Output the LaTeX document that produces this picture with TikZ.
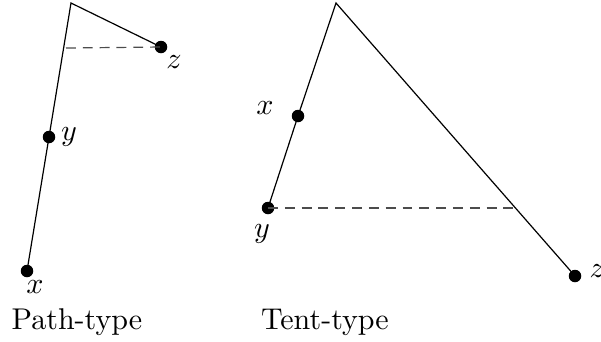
\documentclass[tikz,border=0pt]{standalone}
\begin{document}
\begin{tikzpicture}[x=0.333pt,y=-0.333pt,
  dotnode/.style={circle,fill=black,inner sep=0pt,minimum size=12.5*0.333pt},
  lab/.style={inner sep=0pt},
  edgeline/.style={line width=0.4pt},
  dashline/.style={dashed,dash pattern=on 3.3pt off 2.3pt,line width=0.4pt,black!70}]
\useasboundingbox (0,0) rectangle (601,341);
% Path-type
\coordinate (pa) at (71,3);
\node[dotnode] (pz) at (161,47) {};
\node[dotnode] (py) at (49,137) {};
\node[dotnode] (px) at (27,271) {};
\coordinate (pd) at (66,48);
\draw[edgeline] (px.center) -- (py.center) -- (pa) -- (pz.center);
\draw[dashline] (pd) -- (pz.center);
\node[lab] at (174,62) {$z$};
\node[lab] at (69,137) {$y$};
\node[lab] at (35,287) {$x$};
\node[lab] (pt1) at (77,322) {Path-type};
% Tent-type
\coordinate (ta) at (336,3);
\node[dotnode] (tx) at (298,116) {};
\node[dotnode] (ty) at (268,208) {};
\node[dotnode] (tz) at (575,276) {};
\coordinate (td) at (515,208);
\draw[edgeline] (ty.center) -- (tx.center) -- (ta) -- (tz.center);
\draw[dashline] (ty.center) -- (td);
\node[lab] at (265,108) {$x$};
\node[lab] at (262,234) {$y$};
\node[lab,anchor=west] at (589,271) {$z$};
\node[lab] (pt2) at (325,322) {Tent-type};
\end{tikzpicture}
\end{document}
